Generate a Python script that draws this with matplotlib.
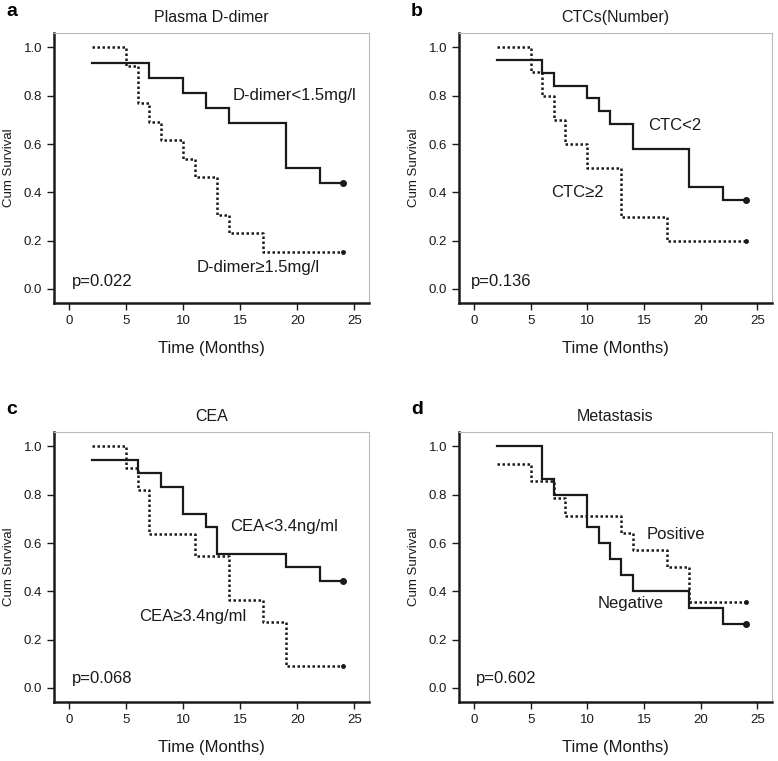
import matplotlib
matplotlib.use("Agg")
import matplotlib.pyplot as plt

plt.rcParams['font.family'] = ['Liberation Sans', 'DejaVu Sans']

# ---- data ----
# panel a: Plasma D-dimer
a_low_t = [2, 7, 10, 12, 14, 19, 22, 24]
a_low_s = [0.9375, 0.875, 0.8125, 0.75, 0.6875, 0.5, 0.4375, 0.4375]
a_high_t = [2, 5, 6, 7, 8, 10, 11, 13, 14, 17, 24]
a_high_s = [1.0, 0.923, 0.769, 0.692, 0.615, 0.538, 0.462, 0.308, 0.231, 0.154, 0.154]
# panel b: CTCs
b_low_t = [2, 6, 7, 10, 11, 12, 14, 19, 22, 24]
b_low_s = [0.947, 0.895, 0.842, 0.789, 0.737, 0.684, 0.579, 0.421, 0.368, 0.368]
b_high_t = [2, 5, 6, 7, 8, 10, 13, 17, 24]
b_high_s = [1.0, 0.9, 0.8, 0.7, 0.6, 0.5, 0.3, 0.2, 0.2]
# panel c: CEA
c_low_t = [2, 6, 8, 10, 12, 13, 19, 22, 24]
c_low_s = [0.944, 0.889, 0.833, 0.722, 0.667, 0.556, 0.5, 0.444, 0.444]
c_high_t = [2, 5, 6, 7, 11, 14, 17, 19, 24]
c_high_s = [1.0, 0.909, 0.818, 0.636, 0.545, 0.364, 0.273, 0.091, 0.091]
# panel d: Metastasis
d_neg_t = [2, 6, 7, 10, 11, 12, 13, 14, 19, 22, 24]
d_neg_s = [1.0, 0.867, 0.8, 0.667, 0.6, 0.533, 0.467, 0.4, 0.333, 0.267, 0.267]
d_pos_t = [2, 5, 7, 8, 13, 14, 17, 19, 24]
d_pos_s = [0.929, 0.857, 0.786, 0.714, 0.643, 0.571, 0.5, 0.357, 0.357]

xticks = [0, 5, 10, 15, 20, 25]
yticks = [0.0, 0.2, 0.4, 0.6, 0.8, 1.0]

W, H = 778, 761
fig = plt.figure(figsize=(W / 100, H / 100), dpi=100)

def px_axes(l, t, r, b):
    return fig.add_axes([l / W, 1 - b / H, (r - l) / W, (b - t) / H])

panels = [
    dict(box=(54, 33, 369, 303), letter='a', title='Plasma D-dimer',
         solid=(a_low_t, a_low_s), dash=(a_high_t, a_high_s),
         texts=[(14.3, 0.80, 'D-dimer<1.5mg/l'), (11.2, 0.087, 'D-dimer≥1.5mg/l')],
         p=(0.2, 0.03, 'p=0.022')),
    dict(box=(459, 33, 772, 303), letter='b', title='CTCs(Number)',
         solid=(b_low_t, b_low_s), dash=(b_high_t, b_high_s),
         texts=[(15.4, 0.675, 'CTC<2'), (6.8, 0.40, 'CTC≥2')],
         p=(-0.3, 0.033, 'p=0.136')),
    dict(box=(54, 432, 369, 702), letter='c', title='CEA',
         solid=(c_low_t, c_low_s), dash=(c_high_t, c_high_s),
         texts=[(14.1, 0.67, 'CEA<3.4ng/ml'), (6.1, 0.296, 'CEA≥3.4ng/ml')],
         p=(0.2, 0.04, 'p=0.068')),
    dict(box=(459, 432, 772, 702), letter='d', title='Metastasis',
         solid=(d_neg_t, d_neg_s), dash=(d_pos_t, d_pos_s),
         texts=[(15.2, 0.635, 'Positive'), (10.9, 0.35, 'Negative')],
         p=(0.15, 0.04, 'p=0.602')),
]

col = '#1a1a1a'
for P in panels:
    l, t, r, b = P['box']
    ax = px_axes(l, t, r, b)
    ax.set_xlim(-1.35, 26.3)
    ax.set_ylim(-0.058, 1.06)
    st, ss = P['solid']
    dt, ds = P['dash']
    ax.step(st, ss, where='post', color=col, lw=1.6, solid_joinstyle='miter')
    ax.plot([st[-1]], [ss[-1]], 'o', color=col, ms=4)
    ax.step(dt, ds, where='post', color=col, lw=1.8, linestyle=(0, (1, 1)))
    ax.plot([dt[-1]], [ds[-1]], 'o', color=col, ms=2.5)
    for x, y, s in P['texts']:
        ax.text(x, y, s, fontsize=12, va='center', ha='left', color=col)
    px, py, ps = P['p']
    ax.text(px, py, ps, fontsize=12, va='center', ha='left', color=col)
    ax.set_xticks(xticks)
    ax.set_yticks(yticks)
    ax.set_yticklabels([f'{v:.1f}' for v in yticks])
    ax.tick_params(direction='out', length=5, width=1, labelsize=9.5, colors=col)
    for s in ['left', 'bottom']:
        ax.spines[s].set_linewidth(1.8)
        ax.spines[s].set_color(col)
    for s in ['top', 'right']:
        ax.spines[s].set_linewidth(0.8)
        ax.spines[s].set_color('#bbbbbb')
    ax.set_xlabel('Time (Months)', fontsize=12, color=col, labelpad=10)
    ax.set_ylabel('Cum Survival', fontsize=9.5, color=col, labelpad=6)
    ax.set_title(P['title'], fontsize=11.5, color=col, pad=8)
    fig.text((l - 48) / W, 1 - (t - 22) / H, P['letter'], fontsize=14,
             fontweight='bold', ha='left', va='center')

fig.savefig('out.png', dpi=100)
